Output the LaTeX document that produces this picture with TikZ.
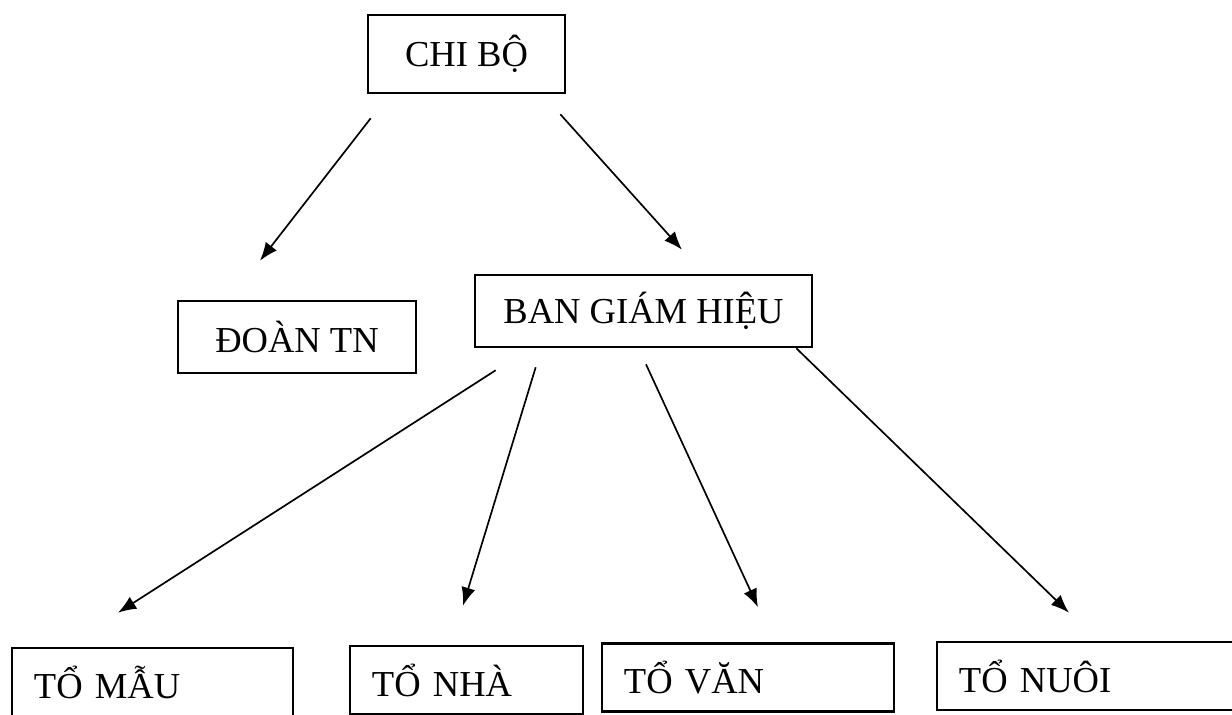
\documentclass[tikz,border=0pt]{standalone}
\usepackage{fontspec}
\setmainfont{Liberation Serif}
\usetikzlibrary{arrows.meta,positioning,calc}
\tikzstyle{BOX} = [rectangle, draw, line width=1.8pt, inner sep=0pt, text centered, font=\fontsize{26}{30}\selectfont]
\tikzstyle{UNIT} = [rectangle, draw, line width=1.8pt, inner xsep=0.55cm, inner ysep=0pt, align=left, minimum height=1.7cm, font=\fontsize{26}{30}\selectfont]
\tikzstyle{ARROW} = [draw, line width=1.2pt, -{Latex[length=13pt,width=10pt]}]

\begin{document}
\begin{tikzpicture}[x=0.025cm, y=-0.025cm]
% Define
\clip (0,0) rectangle (1232,715);
% Place nodes
\node [BOX, minimum width=4.925cm, minimum height=1.95cm] (CHIBO) at (466.5,54) {CHI BỘ};
\node [BOX, minimum width=5.95cm, minimum height=1.8cm] (DOAN) at (297,337) {ĐOÀN TN};
\node [BOX, minimum width=8.425cm, minimum height=1.8cm] (BGH) at (643.5,311) {BAN GIÁM HIỆU};
\node [UNIT, text width=5.925cm] (MAU) at (152.5,682) {TỔ MẪU};
\node [UNIT, text width=4.725cm] (NHA) at (466.5,680) {TỔ NHÀ};
\node [UNIT, text width=6.2cm] (VAN) at (748,677.5) {TỔ VĂN};
\node [UNIT, text width=6.6cm] (NUOI) at (1091,676) {TỔ NUÔI};
% LINES and ARROWS
\path [ARROW] ($(CHIBO.south west)+(4,24)$) -- ($(DOAN.north)+(-37,-39)$);
\path [ARROW] ($(CHIBO.south east)+(-6,20)$) -- ($(BGH.north)+(38.5,-24)$);
\path [ARROW] ($(BGH.south west)+(22,22)$) -- ($(MAU.north)+(-34.5,-34)$);
\path [ARROW] ($(BGH.south west)+(62,19)$) -- ($(NHA.north)+(-3.5,-39)$);
\path [ARROW] ($(BGH.south)+(2.5,16)$) -- ($(VAN.north)+(10,-35)$);
\path [ARROW] ($(BGH.south east)+(-17,0)$) -- ($(NUOI.north)+(-22,-28)$);
\end{tikzpicture}
\end{document}
